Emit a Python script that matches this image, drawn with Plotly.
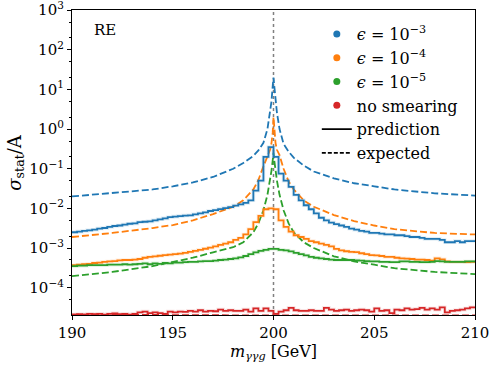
import plotly.graph_objects as go

# ---------------- data ----------------
bin_start = 190.0
bin_width = 0.25

# prediction histograms (80 bins, 190 -> 210)
pred_e3 = [
    0.0025, 0.0026, 0.0027, 0.0028, 0.0029, 0.0031, 0.0032, 0.0034,
    0.0036, 0.0037, 0.0039, 0.0041, 0.0042, 0.0045, 0.0046, 0.0047,
    0.0050, 0.0053, 0.0056, 0.0060, 0.0062, 0.0064, 0.0066, 0.0067,
    0.0071, 0.0075, 0.0079, 0.0086, 0.0090, 0.0096, 0.0102, 0.0108,
    0.0118, 0.0126, 0.0138, 0.0160, 0.028, 0.05, 0.20, 0.35,
    0.20, 0.075, 0.050, 0.035, 0.022, 0.016, 0.012, 0.0095,
    0.0075, 0.0058, 0.0050, 0.0044, 0.0040, 0.0037, 0.0034, 0.0031,
    0.0029, 0.0027, 0.0026, 0.0024, 0.0024, 0.0023, 0.0022, 0.0022,
    0.0021, 0.0021, 0.0020, 0.0019, 0.0019, 0.0018, 0.0017, 0.0017,
    0.0017, 0.0016, 0.0014, 0.0014, 0.0015, 0.0014, 0.0015, 0.0015,
]
pred_e4 = [
    0.00037, 0.00038, 0.00039, 0.00040, 0.00042, 0.00043, 0.00045, 0.00046,
    0.00047, 0.00049, 0.00050, 0.00050, 0.00051, 0.00053, 0.00057, 0.00060,
    0.00062, 0.00064, 0.00066, 0.00068, 0.00070, 0.00072, 0.00076, 0.00080,
    0.00085, 0.00090, 0.00096, 0.00102, 0.00110, 0.00120, 0.00130, 0.00140,
    0.0016, 0.0018, 0.0022, 0.0030, 0.0045, 0.0065, 0.0095, 0.0100,
    0.0095, 0.0050, 0.0034, 0.0026, 0.0021, 0.0019, 0.0017, 0.0015,
    0.0014, 0.0013, 0.0012, 0.0011, 0.00095, 0.00087, 0.00083, 0.00080,
    0.00079, 0.00074, 0.00070, 0.00066, 0.00065, 0.00063, 0.00060, 0.00060,
    0.00057, 0.00055, 0.00054, 0.00053, 0.00051, 0.00051, 0.00050, 0.00048,
    0.00055, 0.00052, 0.00046, 0.00045, 0.00045, 0.00045, 0.00044, 0.00045,
]
pred_e5 = [
    0.00035, 0.00036, 0.00036, 0.00037, 0.00037, 0.00037, 0.00037, 0.00038,
    0.00038, 0.00038, 0.00039, 0.00038, 0.00039, 0.00040, 0.00041, 0.00039,
    0.00041, 0.00040, 0.00042, 0.00041, 0.00043, 0.00043, 0.00044, 0.00045,
    0.00045, 0.00046, 0.00047, 0.00047, 0.00048, 0.00050, 0.00051, 0.00053,
    0.00055, 0.00058, 0.00063, 0.00070, 0.00078, 0.00085, 0.00090, 0.00095,
    0.00095, 0.00090, 0.00087, 0.00082, 0.00076, 0.00070, 0.00065, 0.00060,
    0.00057, 0.00055, 0.00053, 0.00051, 0.00050, 0.00050, 0.00050, 0.00050,
    0.00049, 0.00048, 0.00047, 0.00046, 0.00046, 0.00045, 0.00045, 0.00044,
    0.00044, 0.00046, 0.00046, 0.00045, 0.00045, 0.00044, 0.00044, 0.00045,
    0.00047, 0.00046, 0.00045, 0.00045, 0.00045, 0.00045, 0.00046, 0.00046,
]
pred_nosmear = [
    2.10e-5, 2.15e-5, 2.10e-5, 2.20e-5, 2.15e-5, 2.20e-5, 2.10e-5, 2.20e-5,
    2.25e-5, 2.15e-5, 2.20e-5, 2.10e-5, 2.20e-5, 2.40e-5, 2.50e-5, 2.30e-5,
    2.40e-5, 2.30e-5, 2.20e-5, 2.50e-5, 2.40e-5, 2.50e-5, 2.45e-5, 2.60e-5,
    2.50e-5, 2.70e-5, 2.50e-5, 2.60e-5, 2.55e-5, 2.80e-5, 2.60e-5, 2.70e-5,
    2.60e-5, 2.60e-5, 2.80e-5, 2.50e-5, 3.00e-5, 2.60e-5, 3.00e-5, 2.60e-5,
    2.20e-5, 2.50e-5, 2.70e-5, 3.10e-5, 2.70e-5, 2.60e-5, 2.60e-5, 2.70e-5,
    2.60e-5, 2.60e-5, 3.10e-5, 2.80e-5, 2.60e-5, 2.70e-5, 2.80e-5, 2.60e-5,
    2.70e-5, 2.80e-5, 2.70e-5, 2.50e-5, 3.00e-5, 2.60e-5, 2.70e-5, 2.30e-5,
    2.80e-5, 2.70e-5, 3.00e-5, 2.80e-5, 2.90e-5, 3.10e-5, 2.80e-5, 3.00e-5,
    2.80e-5, 3.20e-5, 2.40e-5, 2.60e-5, 2.70e-5, 2.80e-5, 3.00e-5, 3.20e-5,
]

# expected curves, read at these masses
exp_mass = [190, 192, 194, 195, 196, 197, 198, 198.5, 199, 199.25, 199.5,
            199.7, 199.83, 199.9, 199.96, 200, 200.04, 200.1, 200.17, 200.3,
            200.5, 200.75, 201, 201.5, 202, 203, 204, 205, 206, 208, 210]
exp_e3 = [0.020, 0.024, 0.030, 0.036, 0.045, 0.062, 0.10, 0.14, 0.21, 0.29, 0.45,
          1.0, 2.6, 5.0, 12.0, 20.0, 12.0, 5.0, 2.6, 1.0,
          0.42, 0.27, 0.19, 0.12, 0.085, 0.057, 0.043, 0.036, 0.030, 0.024, 0.021]
exp_e4 = [0.0019, 0.0024, 0.0032, 0.0038, 0.0050, 0.0072, 0.011, 0.016, 0.030, 0.052, 0.115,
          0.22, 0.30, 0.45, 0.80, 2.0, 0.80, 0.45, 0.30, 0.22,
          0.10, 0.048, 0.030, 0.016, 0.011, 0.0068, 0.0048, 0.0037, 0.0030, 0.0024, 0.0022]
exp_e5 = [0.000195, 0.00025, 0.00035, 0.00044, 0.00057, 0.00078, 0.00105, 0.0014, 0.0025, 0.0042, 0.009,
          0.022, 0.05, 0.09, 0.16, 0.25, 0.16, 0.09, 0.05, 0.022,
          0.009, 0.0042, 0.0025, 0.0014, 0.0010, 0.00062, 0.00046, 0.00038, 0.00031, 0.00025, 0.00022]
exp_nosmear = [2.09e-5, 2.09e-5, 2.08e-5, 2.06e-5, 2.03e-5, 2.0e-5, 2.0e-5, 2.0e-5, 2.0e-5, 2.0e-5, 2.0e-5,
               2.0e-5, 2.0e-5, 2.0e-5, 2.0e-5, 2.0e-5, 2.0e-5, 2.0e-5, 2.0e-5, 2.0e-5,
               2.0e-5, 2.0e-5, 2.0e-5, 2.0e-5, 2.0e-5, 2.0e-5, 2.0e-5, 2.0e-5, 2.0e-5, 2.0e-5, 2.0e-5]

labels = ["<i>ϵ</i> = 10<sup>−3</sup>", "<i>ϵ</i> = 10<sup>−4</sup>",
          "<i>ϵ</i> = 10<sup>−5</sup>", "no smearing"]
colors = ["#1f77b4", "#ff7f0e", "#2ca02c", "#d62728"]
x_ticks = [190, 195, 200, 205, 210]
y_ticks = [1e-4, 1e-3, 1e-2, 1e-1, 1, 10, 100, 1000]
y_ticktext = ["10<sup>−4</sup>", "10<sup>−3</sup>", "10<sup>−2</sup>", "10<sup>−1</sup>",
              "10<sup>0</sup>", "10<sup>1</sup>", "10<sup>2</sup>", "10<sup>3</sup>"]

# ---------------- figure ----------------
FONT = "DejaVu Serif"
fig = go.Figure()

n = len(pred_e3)
edges = [bin_start + i * bin_width for i in range(n + 1)]

preds = [pred_e3, pred_e4, pred_e5, pred_nosmear]
exps = [exp_e3, exp_e4, exp_e5, exp_nosmear]

for ex, col in zip(exps, colors):
    fig.add_trace(go.Scatter(x=exp_mass, y=ex, mode="lines",
                             line=dict(color=col, width=1.8, dash="7px,3px"),
                             showlegend=False, hoverinfo="skip"))
for vals, col in zip(preds, colors):
    ys = list(vals) + [vals[-1]]
    fig.add_trace(go.Scatter(x=edges, y=ys, mode="lines", line_shape="hv",
                             line=dict(color=col, width=3.6), opacity=0.12,
                             showlegend=False, hoverinfo="skip"))
    fig.add_trace(go.Scatter(x=edges, y=ys, mode="lines", line_shape="hv",
                             line=dict(color=col, width=1.8),
                             showlegend=False, hoverinfo="skip"))

# legend entries
for lab, col in zip(labels, colors):
    fig.add_trace(go.Scatter(x=[None], y=[None], mode="markers",
                             marker=dict(color=col, size=7), name=lab))
fig.add_trace(go.Scatter(x=[None], y=[None], mode="lines",
                         line=dict(color="black", width=1.8), name="prediction"))
fig.add_trace(go.Scatter(x=[None], y=[None], mode="lines",
                         line=dict(color="black", width=1.8, dash="4px,2px"), name="expected"))

fig.add_shape(type="line", x0=200, x1=200, y0=0, y1=1, xref="x", yref="paper",
              line=dict(color="#808080", width=1.5, dash="dot"), layer="below")

fig.add_annotation(text="RE", x=0.05, y=0.935, xref="paper", yref="paper",
                   xanchor="left", yanchor="middle", showarrow=False,
                   font=dict(family=FONT, size=15, color="black"))

# y-axis title placed explicitly
fig.add_annotation(text="<i>σ</i><sub>stat</sub>/A", x=-0.141, y=0.5, xref="paper", yref="paper",
                   xanchor="center", yanchor="middle", showarrow=False, textangle=-90,
                   font=dict(family=FONT, size=18, color="black"))
# x-axis title placed explicitly
fig.add_annotation(text="<i>m</i><sub><i>γγg</i></sub> [GeV]", x=0.5, y=-0.082, xref="paper", yref="paper",
                   xanchor="center", yanchor="top", showarrow=False,
                   font=dict(family=FONT, size=16, color="black"))

fig.update_layout(
    width=493, height=370,
    margin=dict(l=72, r=18, t=10, b=55),
    paper_bgcolor="white", plot_bgcolor="white",
    font=dict(family=FONT, size=15, color="black"),
    legend=dict(x=0.6075, y=0.977, xanchor="left", yanchor="top",
                bgcolor="rgba(0,0,0,0)", borderwidth=0,
                font=dict(family=FONT, size=16), tracegroupgap=0,
                itemwidth=30),
    xaxis=dict(range=[190, 210], tickvals=x_ticks, ticks="outside", ticklen=4,
               tickcolor="black", showline=True, linecolor="black", linewidth=1.2,
               mirror=True, showgrid=False, zeroline=False, automargin=False,
               ticklabeloverflow="allow",
               tickfont=dict(family=FONT, size=15)),
    yaxis=dict(type="log", range=[-4.688, 3.002], tickvals=y_ticks, ticktext=y_ticktext,
               ticks="outside", ticklen=4, tickcolor="black",
               minor=dict(ticks="outside", ticklen=2, tickcolor="black", showgrid=False),
               showline=True, linecolor="black", linewidth=1.2,
               mirror=True, showgrid=False, zeroline=False, automargin=False,
               ticklabeloverflow="allow",
               tickfont=dict(family=FONT, size=15)),
)

fig.write_html("out.html",
               config={"displayModeBar": False},
               post_script="document.body.style.margin='0';document.body.style.padding='0';")
